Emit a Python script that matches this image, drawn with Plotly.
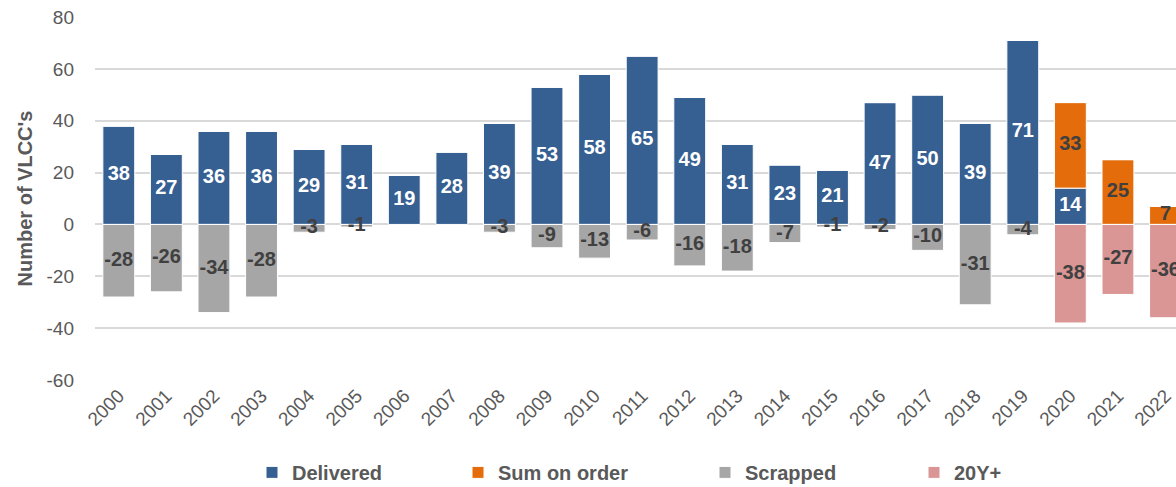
import plotly.graph_objects as go

years = [str(y) for y in range(2000, 2023)]
delivered = [38, 27, 36, 36, 29, 31, 19, 28, 39, 53, 58, 65, 49, 31, 23, 21, 47, 50, 39, 71, 14, 0, 0]
on_order = [0] * 20 + [33, 25, 7]
scrapped = [-28, -26, -34, -28, -3, -1, 0, 0, -3, -9, -13, -6, -16, -18, -7, -1, -2, -10, -31, -4, 0, 0, 0]
old20 = [0] * 20 + [-38, -27, -36]
y_ticks = [-60, -40, -20, 0, 20, 40, 60, 80]

C_DEL = "#376092"
C_ORD = "#E46C0A"
C_SCR = "#A6A6A6"
C_OLD = "#D99694"
FONT = "Liberation Sans, Arial, sans-serif"
GRAY = "#595959"
DARK = "#404040"

x = list(range(len(years)))
fig = go.Figure()

series = [
    ("Delivered", delivered, C_DEL, "legend"),
    ("Sum on order", on_order, C_ORD, "legend2"),
    ("Scrapped", scrapped, C_SCR, "legend3"),
    ("20Y+", old20, C_OLD, "legend4"),
]
for name, vals, col, lg in series:
    fig.add_trace(go.Bar(
        x=x, y=vals, name=name, marker=dict(color=col, line=dict(color="white", width=1)),
        legend=lg, hoverinfo="skip",
    ))


def add_labels(vals, base, color):
    xs, ys, ts = [], [], []
    for i, v in enumerate(vals):
        if v != 0:
            xs.append(i)
            ys.append(base[i] + v / 2)
            ts.append(str(v))
    fig.add_trace(go.Scatter(x=xs, y=ys, text=ts, mode="text", showlegend=False,
                             textfont=dict(family=FONT, size=20, color=color, weight="bold"),
                             hoverinfo="skip", cliponaxis=False))


zeros = [0] * len(years)
add_labels(delivered, zeros, "white")
add_labels(on_order, delivered, DARK)
add_labels(scrapped, zeros, DARK)
add_labels(old20, zeros, DARK)

legfont = dict(family=FONT, size=20, color=GRAY, weight="bold")
for lg, xpos in [("legend", 252), ("legend2", 458), ("legend3", 705), ("legend4", 914)]:
    fig.update_layout({lg: dict(x=(xpos - 95) / 1081, y=0.03, xref="paper", yref="container",
                                xanchor="left", yanchor="middle", orientation="h",
                                font=legfont, bgcolor="rgba(0,0,0,0)", itemwidth=30)})

fig.update_layout(
    barmode="relative",
    bargap=0.33,
    width=1176, height=487,
    margin=dict(l=95, r=0, t=17, b=107),
    plot_bgcolor="white", paper_bgcolor="white",
    font=dict(family=FONT, size=19, color=GRAY),
    xaxis=dict(range=[-0.5, 22.22], tickvals=x, ticktext=years, tickangle=-45,
               showgrid=False, zeroline=False, showline=False, ticks="",
               ticklabeloverflow="allow",
               tickfont=dict(family=FONT, size=19, color=GRAY)),
    yaxis=dict(range=[-60, 80], tickvals=y_ticks, ticktext=[str(v) for v in y_ticks],
               showgrid=True, gridcolor="#D9D9D9", gridwidth=1.5,
               zeroline=True, zerolinecolor="#D9D9D9", zerolinewidth=1.5,
               tickfont=dict(family=FONT, size=19, color=GRAY), ticklabelstandoff=20,
               title=dict(text="Number of VLCC's",
                          font=dict(family=FONT, size=20, color=GRAY, weight="bold"),
                          standoff=8)),
)

fig.write_html("out.html")
